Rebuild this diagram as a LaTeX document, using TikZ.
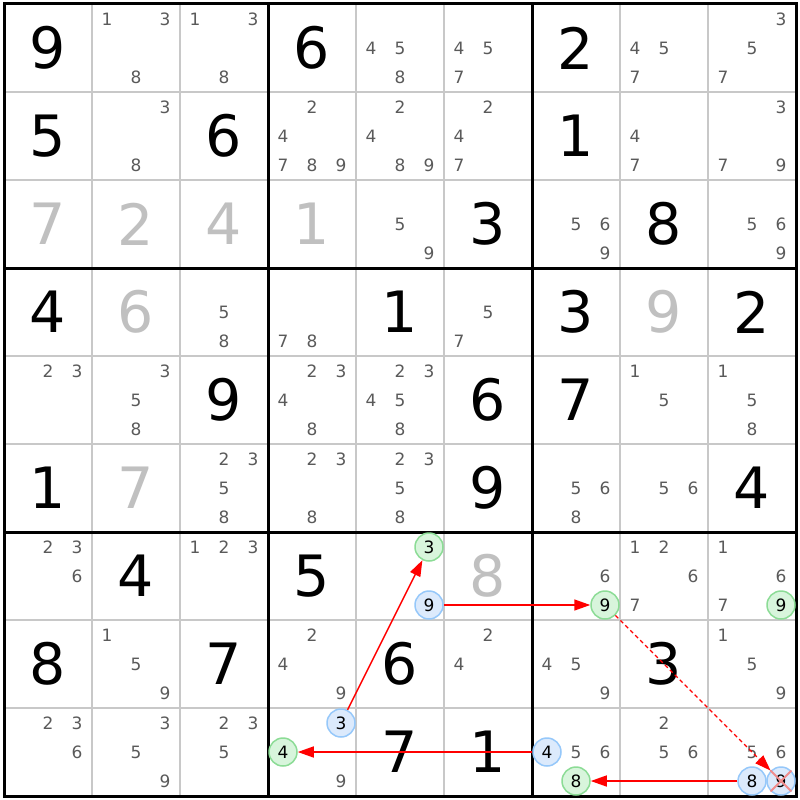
\documentclass[tikz,border=0pt]{standalone}
\usepackage{fontspec}
\setmainfont{DejaVu Sans}
\usetikzlibrary{arrows.meta}
\definecolor{candgray}{RGB}{90,90,90}
\definecolor{solvedgray}{RGB}{192,192,192}
\definecolor{thingrid}{RGB}{200,200,200}
\definecolor{greenfill}{RGB}{216,245,220}
\definecolor{greenline}{RGB}{140,220,150}
\definecolor{bluefill}{RGB}{220,234,252}
\definecolor{blueline}{RGB}{150,200,250}
\definecolor{crossred}{RGB}{240,140,140}
\definecolor{linkred}{RGB}{255,0,0}
\tikzset{
  given/.style={inner sep=0pt, font=\fontsize{57}{60}\selectfont, text=black},
  solved/.style={inner sep=0pt, font=\fontsize{57}{60}\selectfont, text=solvedgray},
  cand/.style={inner sep=0pt, font=\fontsize{17}{18}\selectfont, text=candgray},
  greenmark/.style={circle, inner sep=0pt, minimum size=28pt, draw=greenline, fill=greenfill, line width=1.5pt, font=\fontsize{17}{18}\selectfont, text=black},
  bluemark/.style={circle, inner sep=0pt, minimum size=28pt, draw=blueline, fill=bluefill, line width=1.5pt, font=\fontsize{17}{18}\selectfont, text=black},
  linkarrow/.style={color=linkred, line width=1.5pt, -{Triangle[length=16pt,width=11pt]}},
  weaklink/.style={linkarrow, line width=1.3pt, dash pattern=on 4pt off 3pt},
}
\begin{document}
\begin{tikzpicture}[x=1pt,y=-1pt]
\useasboundingbox (0,0) rectangle (800,800);
\fill[white] (0,0) rectangle (800,800);
% thin grid lines
\foreach \i in {1,2,4,5,7,8} {
  \draw[thingrid, line width=1.2pt] ({4+88*\i},4) -- ({4+88*\i},796);
  \draw[thingrid, line width=1.2pt] (4,{4+88*\i}) -- (796,{4+88*\i});
}
% thick grid lines
\foreach \i in {3,6} {
  \draw[black, line width=3pt] ({4+88*\i},4) -- ({4+88*\i},796);
  \draw[black, line width=3pt] (4,{4+88*\i}) -- (796,{4+88*\i});
}
\draw[black, line width=3pt] (4,4) rectangle (796,796);
% givens
\foreach \r/\c/\d in {0/0/9,0/3/6,0/6/2,1/0/5,1/2/6,1/6/1,2/5/3,2/7/8,3/0/4,3/4/1,3/6/3,3/8/2,4/2/9,4/5/6,4/6/7,5/0/1,5/5/9,5/8/4,6/1/4,6/3/5,7/0/8,7/2/7,7/4/6,7/7/3,8/4/7,8/5/1}
  \node[given] (g\r\c) at ({48+88*\c},{48+88*\r}) {\d};
% solved (gray)
\foreach \r/\c/\d in {2/0/7,2/1/2,2/2/4,2/3/1,3/1/6,3/7/9,5/1/7,6/5/8}
  \node[solved] (g\r\c) at ({48+88*\c},{48+88*\r}) {\d};
% candidates
\foreach \r/\c/\d in {
  0/1/1,0/1/3,0/1/8, 0/2/1,0/2/3,0/2/8, 0/4/4,0/4/5,0/4/8, 0/5/4,0/5/5,0/5/7, 0/7/4,0/7/5,0/7/7, 0/8/3,0/8/5,0/8/7,
  1/1/3,1/1/8, 1/3/2,1/3/4,1/3/7,1/3/8,1/3/9, 1/4/2,1/4/4,1/4/8,1/4/9, 1/5/2,1/5/4,1/5/7, 1/7/4,1/7/7, 1/8/3,1/8/7,1/8/9,
  2/4/5,2/4/9, 2/6/5,2/6/6,2/6/9, 2/8/5,2/8/6,2/8/9,
  3/2/5,3/2/8, 3/3/7,3/3/8, 3/5/5,3/5/7,
  4/0/2,4/0/3, 4/1/3,4/1/5,4/1/8, 4/3/2,4/3/3,4/3/4,4/3/8, 4/4/2,4/4/3,4/4/4,4/4/5,4/4/8, 4/7/1,4/7/5, 4/8/1,4/8/5,4/8/8,
  5/2/2,5/2/3,5/2/5,5/2/8, 5/3/2,5/3/3,5/3/8, 5/4/2,5/4/3,5/4/5,5/4/8, 5/6/5,5/6/6,5/6/8, 5/7/5,5/7/6,
  6/0/2,6/0/3,6/0/6, 6/2/1,6/2/2,6/2/3, 6/6/6, 6/7/1,6/7/2,6/7/6,6/7/7, 6/8/1,6/8/6,6/8/7,
  7/1/1,7/1/5,7/1/9, 7/3/2,7/3/4,7/3/9, 7/5/2,7/5/4, 7/6/4,7/6/5,7/6/9, 7/8/1,7/8/5,7/8/9,
  8/0/2,8/0/3,8/0/6, 8/1/3,8/1/5,8/1/9, 8/2/2,8/2/3,8/2/5, 8/3/9, 8/6/5,8/6/6, 8/7/2,8/7/5,8/7/6, 8/8/5,8/8/6}
{
  \pgfmathsetmacro\cx{4+88*\c+15+29*mod(\d-1,3)}
  \pgfmathsetmacro\cy{4+88*\r+15+29*int((\d-1)/3)}
  \node[cand] (c\r\c\d) at (\cx,\cy) {\d};
}
% highlighted candidates
\foreach \r/\c/\d/\s in {6/4/3/greenmark,6/6/9/greenmark,6/8/9/greenmark,8/3/4/greenmark,8/6/8/greenmark,
                         6/4/9/bluemark,8/3/3/bluemark,8/6/4/bluemark,8/8/8/bluemark,8/8/9/bluemark}
{
  \pgfmathsetmacro\cx{4+88*\c+15+29*mod(\d-1,3)}
  \pgfmathsetmacro\cy{4+88*\r+15+29*int((\d-1)/3)}
  \node[\s] (c\r\c\d) at (\cx,\cy) {\d};
}
% elimination cross
\draw[crossred, line width=1.8pt] (c889.north west) -- (c889.south east);
\draw[crossred, line width=1.8pt] (c889.north east) -- (c889.south west);
% links
\draw[linkarrow] (c833) -- (c643);
\draw[linkarrow] (c649) -- (c669);
\draw[weaklink] (c669) -- (c889);
\draw[linkarrow] (c888) -- (c868);
\draw[linkarrow] (c864) -- (c834);
\end{tikzpicture}
\end{document}
